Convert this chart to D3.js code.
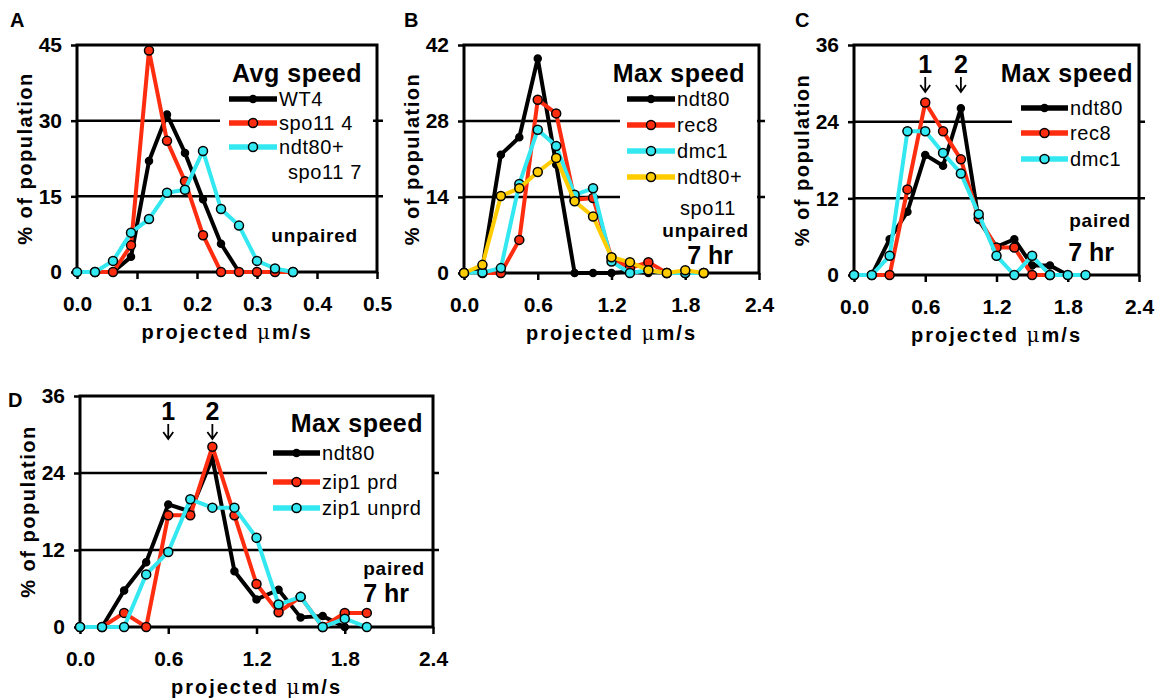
<!DOCTYPE html>
<html lang="en">
<head>
<meta charset="utf-8">
<title>Speed histograms</title>
<style>
  body { margin: 0; background: #fff; }
  svg text { font-family: "Liberation Sans", Arial, sans-serif; fill: #000; }
  .tick text { font-weight: bold; font-size: 21px; }
  .ytitle { font-weight: bold; font-size: 20px; letter-spacing: 1.5px; }
  .xtitle { font-weight: bold; font-size: 20px; letter-spacing: 2px; }
  .ltitle { font-weight: bold; font-size: 25px; letter-spacing: 0.5px; }
  .ltext { font-size: 20px; letter-spacing: 0.6px; }
  .note { font-weight: bold; font-size: 19px; letter-spacing: 0.8px; }
  .big { font-weight: bold; font-size: 25px; }
  .letter { font-weight: bold; font-size: 20px; }
</style>
<script src="https://d3js.org/d3.v7.min.js"></script>
</head>
<body>
<script>
// ---- data ----
// panel A : average speed, bins of 0.03
var xA = [0, 0.03, 0.06, 0.09, 0.12, 0.15, 0.18, 0.21, 0.24, 0.27, 0.30, 0.33, 0.36];
var wt4      = [null, null, 0, 3.0, 22, 31.2, 23.6, 14.4, 5.6, 0, null, null, null];
var spo11_4  = [null, 0, 0, 5.3, 43.9, 26, 18, 7.3, 0, 0, 0, 0, 0];
var ndt80spo11_7 = [0, 0, 2.2, 7.8, 10.5, 15.7, 16.3, 24, 12.5, 9.2, 2.2, 0.7, 0];

// panels B-D : max speed, bins of 0.15
var xMax = [0, 0.15, 0.3, 0.45, 0.6, 0.75, 0.9, 1.05, 1.2, 1.35, 1.5, 1.65, 1.8, 1.95];
// B, unpaired 7 hr
var ndt80B  = [0, 1, 21.8, 25, 39.5, 20, 0, 0, 0, 0.3, 0, null, null, null];
var rec8B   = [0, 0, 0, 6.1, 31.9, 29.4, 13.5, 13.8, 2.8, 0.9, 2.0, 0, 0, 0];
var dmc1B   = [0, 0.1, 0.9, 16.4, 26.4, 23.4, 14.4, 15.6, 2.1, 0, 0.5, 0, 0, 0];
var ndt80spo11B = [0, 1.5, 14.2, 15.6, 18.6, 21.2, 13.2, 10.4, 2.9, 2.0, 0.5, 0, 0.5, 0];
// C, paired 7 hr
var ndt80C  = [0, 0, 5.6, 9.9, 18.8, 17.1, 26.1, 8.6, 4.4, 5.6, 1.5, 1.5, 0, null];
var rec8C   = [0, 0, 0, 13.4, 27, 22.5, 18.1, 8.9, 4.3, 4.3, 0, 0, null, null];
var dmc1C   = [0, 0, 3.0, 22.5, 22.5, 19.1, 15.9, 9.5, 3.0, 0, 3.0, 0, 0, 0];
// D, paired 7 hr
var ndt80D   = [0, 0, 5.7, 10.1, 19.1, 18, 26.3, 8.7, 4.3, 5.8, 1.5, 1.7, 0, null];
var zip1prd  = [0, 0, 2.2, 0, 17.4, 17.4, 28.1, 17.4, 6.7, 2.3, 4.7, 0, 2.2, 2.2];
var zip1unprd = [0, 0, 0, 8.2, 11.7, 19.9, 18.6, 18.6, 13.9, 3.5, 4.7, 0, 1.3, 0];

var ticksA = [0, 0.1, 0.2, 0.3, 0.4, 0.5];
var ticksMax = [0, 0.6, 1.2, 1.8, 2.4];

var BLACK = "#000", RED = "#ff2d10", CYAN = "#33e8f0", YELLOW = "#ffcc00";

var panels = [
  { letter: "A", lx: 10, ly: 27, left: 77, right: 377, top: 45, bottom: 272,
    xMax: 0.5, xTicks: ticksA, yMax: 45, yTicks: [0, 15, 30, 45], x: xA,
    series: [
      { name: "WT4", values: wt4, color: BLACK },
      { name: "spo11 4", values: spo11_4, color: RED },
      { name: "ndt80+", values: ndt80spo11_7, color: CYAN }
    ],
    title: "Avg speed", titleX: 362, titleY: 82,
    legX1: 229, legX2: 277, rows: [99, 123, 147],
    cover: [220, 55, 153, 128],
    texts: [ { t: "spo11 7", x: 288, y: 179, c: "ltext", a: "start" },
             { t: "unpaired", x: 358, y: 242, c: "note", a: "end" } ],
    arrows: [] },
  { letter: "B", lx: 404, ly: 27, left: 464, right: 759, top: 45, bottom: 273,
    xMax: 2.4, xTicks: ticksMax, yMax: 42, yTicks: [0, 14, 28, 42], x: xMax,
    series: [
      { name: "ndt80", values: ndt80B, color: BLACK },
      { name: "rec8", values: rec8B, color: RED },
      { name: "dmc1", values: dmc1B, color: CYAN },
      { name: "ndt80+", values: ndt80spo11B, color: YELLOW }
    ],
    title: "Max speed", titleX: 745, titleY: 82,
    legX1: 627, legX2: 675, rows: [99, 125, 151, 177],
    cover: [620, 55, 137, 150],
    texts: [ { t: "spo11", x: 680, y: 215, c: "ltext", a: "start" },
             { t: "unpaired", x: 749, y: 237, c: "note", a: "end" },
             { t: "7 hr", x: 733, y: 264, c: "big", a: "end" } ],
    arrows: [] },
  { letter: "C", lx: 795, ly: 27, left: 854, right: 1139, top: 45, bottom: 275,
    xMax: 2.4, xTicks: ticksMax, yMax: 36, yTicks: [0, 12, 24, 36], x: xMax,
    series: [
      { name: "ndt80", values: ndt80C, color: BLACK },
      { name: "rec8", values: rec8C, color: RED },
      { name: "dmc1", values: dmc1C, color: CYAN }
    ],
    title: "Max speed", titleX: 1133, titleY: 82,
    legX1: 1021, legX2: 1068, rows: [108, 133, 159],
    cover: [1012, 55, 126, 118],
    texts: [ { t: "paired", x: 1131, y: 227, c: "note", a: "end" },
             { t: "7 hr", x: 1114, y: 261, c: "big", a: "end" } ],
    arrows: [ { t: "1", v: 0.6, y: 73 }, { t: "2", v: 0.9, y: 73 } ] },
  { letter: "D", lx: 8, ly: 407, left: 80, right: 433, top: 396, bottom: 627,
    xMax: 2.4, xTicks: ticksMax, yMax: 36, yTicks: [0, 12, 24, 36], x: xMax,
    series: [
      { name: "ndt80", values: ndt80D, color: BLACK },
      { name: "zip1 prd", values: zip1prd, color: RED },
      { name: "zip1 unprd", values: zip1unprd, color: CYAN }
    ],
    title: "Max speed", titleX: 423, titleY: 432,
    legX1: 273, legX2: 320, rows: [453, 482, 508],
    cover: [267, 404, 165, 118],
    texts: [ { t: "paired", x: 425, y: 575, c: "note", a: "end" },
             { t: "7 hr", x: 409, y: 602, c: "big", a: "end" } ],
    arrows: [ { t: "1", v: 0.6, y: 420 }, { t: "2", v: 0.9, y: 420 } ] }
];

var svg = d3.select("body").append("svg")
  .attr("width", 1161).attr("height", 699);
svg.append("rect").attr("width", 1161).attr("height", 699).attr("fill", "#fff");

panels.forEach(function(p) {
  var g = svg.append("g");
  var x = d3.scaleLinear().domain([0, p.xMax]).range([p.left, p.right]);
  var y = d3.scaleLinear().domain([0, p.yMax]).range([p.bottom, p.top]);

  // grid lines
  g.selectAll(".grid").data(p.yTicks.slice(1, -1)).enter().append("line")
    .attr("x1", p.left).attr("x2", p.right + 6)
    .attr("y1", function(d) { return y(d); }).attr("y2", function(d) { return y(d); })
    .attr("stroke", "#000").attr("stroke-width", 2.5);

  // white box behind legend
  g.append("rect").attr("x", p.cover[0]).attr("y", p.cover[1])
    .attr("width", p.cover[2]).attr("height", p.cover[3]).attr("fill", "#fff");

  // axes
  var xAxis = d3.axisBottom(x).tickValues(p.xTicks).tickFormat(d3.format(".1f"))
    .tickSize(7).tickSizeOuter(0).tickPadding(17);
  var yAxis = d3.axisLeft(y).tickValues(p.yTicks).tickFormat(d3.format("d"))
    .tickSize(6).tickSizeOuter(0).tickPadding(9);
  var gx = g.append("g").attr("transform", "translate(0," + p.bottom + ")").call(xAxis);
  var gy = g.append("g").attr("transform", "translate(" + p.left + ",0)").call(yAxis);
  [gx, gy].forEach(function(a) {
    a.select(".domain").remove();
    a.selectAll(".tick line").attr("stroke-width", 2.5);
    a.selectAll(".tick text").attr("fill", "#000");
  });

  // frame
  g.append("rect").attr("x", p.left).attr("y", p.top)
    .attr("width", p.right - p.left).attr("height", p.bottom - p.top)
    .attr("fill", "none").attr("stroke", "#000").attr("stroke-width", 3);

  // series
  var line = d3.line()
    .defined(function(d) { return d[1] != null; })
    .x(function(d) { return x(d[0]); })
    .y(function(d) { return y(d[1]); });

  p.series.forEach(function(s) {
    var pts = p.x.map(function(v, i) { return [v, s.values[i]]; });
    g.append("path").datum(pts).attr("d", line)
      .attr("fill", "none").attr("stroke", s.color)
      .attr("stroke-width", 4).attr("stroke-linejoin", "round");
    g.selectAll(null).data(pts.filter(function(d) { return d[1] != null; }))
      .enter().append("circle")
      .attr("cx", function(d) { return x(d[0]); })
      .attr("cy", function(d) { return y(d[1]); })
      .attr("r", s.color === BLACK ? 3.5 : 4.5)
      .attr("fill", s.color).attr("stroke", "#000").attr("stroke-width", 1.5);
  });

  // legend
  g.append("text").attr("class", "ltitle").attr("x", p.titleX).attr("y", p.titleY)
    .attr("text-anchor", "end").text(p.title);
  p.series.forEach(function(s, i) {
    var ry = p.rows[i];
    g.append("line").attr("x1", p.legX1).attr("x2", p.legX2)
      .attr("y1", ry).attr("y2", ry).attr("stroke", s.color).attr("stroke-width", 5.5);
    g.append("circle").attr("cx", (p.legX1 + p.legX2) / 2).attr("cy", ry)
      .attr("r", s.color === BLACK ? 3.5 : 4.5)
      .attr("fill", s.color).attr("stroke", "#000").attr("stroke-width", 1.5);
    g.append("text").attr("class", "ltext").attr("x", p.legX2 + 2).attr("y", ry + 7)
      .text(s.name);
  });
  p.texts.forEach(function(t) {
    g.append("text").attr("class", t.c).attr("x", t.x).attr("y", t.y)
      .attr("text-anchor", t.a).text(t.t);
  });

  // peak arrows
  p.arrows.forEach(function(a) {
    var ax = x(a.v);
    g.append("text").attr("class", "big").attr("x", ax).attr("y", a.y)
      .attr("text-anchor", "middle").text(a.t);
    g.append("path")
      .attr("d", "M" + ax + "," + (a.y + 4) + "V" + (a.y + 19) +
        "M" + (ax - 5) + "," + (a.y + 12) + "L" + ax + "," + (a.y + 19) + "L" + (ax + 5) + "," + (a.y + 12))
      .attr("fill", "none").attr("stroke", "#000").attr("stroke-width", 1.8);
  });

  // axis titles
  var xt = g.append("text").attr("class", "xtitle")
    .attr("x", (p.left + p.right) / 2).attr("y", p.bottom + 67)
    .attr("text-anchor", "middle");
  xt.append("tspan").text("projected ");
  xt.append("tspan").attr("font-weight", "normal").attr("font-family", "DejaVu Serif, serif").text("\u03bc");
  xt.append("tspan").text("m/s");
  g.append("text").attr("class", "ytitle")
    .attr("transform", "translate(" + (p.left - 45) + "," + ((p.top + p.bottom) / 2) + ") rotate(-90)")
    .attr("text-anchor", "middle").text("% of population");

  g.append("text").attr("class", "letter").attr("x", p.lx).attr("y", p.ly).text(p.letter);
});
</script>
</body>
</html>
